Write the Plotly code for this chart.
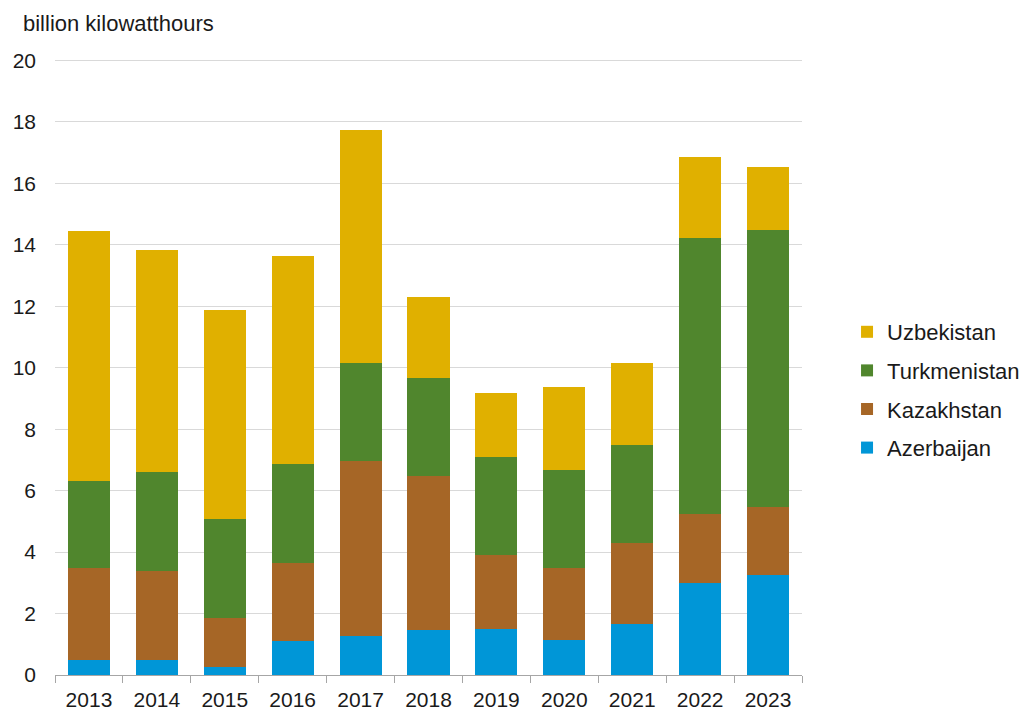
import plotly.graph_objects as go

years = ["2013", "2014", "2015", "2016", "2017", "2018", "2019", "2020", "2021", "2022", "2023"]
azerbaijan = [0.49, 0.48, 0.25, 1.10, 1.28, 1.45, 1.49, 1.14, 1.67, 2.98, 3.24]
kazakhstan = [2.99, 2.92, 1.62, 2.55, 5.67, 5.03, 2.41, 2.33, 2.63, 2.26, 2.23]
turkmenistan = [2.84, 3.20, 3.20, 3.21, 3.22, 3.20, 3.20, 3.20, 3.20, 9.00, 9.00]
uzbekistan = [8.12, 7.22, 6.81, 6.78, 7.58, 2.61, 2.07, 2.69, 2.65, 2.63, 2.05]

# stacked bottom to top; legend lists them top to bottom in reverse
series = [
    ("Azerbaijan", azerbaijan, "#0096D7"),
    ("Kazakhstan", kazakhstan, "#A66626"),
    ("Turkmenistan", turkmenistan, "#50862D"),
    ("Uzbekistan", uzbekistan, "#E0B000"),
]

FONT = "Liberation Sans, Arial, sans-serif"
TXT = "#1a1a1a"

fig = go.Figure()
for i, (name, vals, color) in enumerate(series):
    fig.add_trace(go.Bar(
        x=years, y=vals, name=name, legendgroup=name,
        legendrank=1000 - i,
        marker=dict(color=color, line=dict(width=0)),
    ))

fig.update_layout(
    width=1022, height=711,
    margin=dict(l=55, r=220, t=59, b=36, autoexpand=False),
    barmode="stack", bargap=0.38,
    plot_bgcolor="white", paper_bgcolor="white",
    font=dict(family=FONT, size=21, color=TXT),
    showlegend=True,
    legend=dict(
        xref="container", yref="container",
        x=0.8288, y=0.5626, xanchor="left", yanchor="top",
        traceorder="grouped", tracegroupgap=7,
        font=dict(family=FONT, size=22, color=TXT),
        itemwidth=30,
    ),
    xaxis=dict(
        showline=True, linecolor="#a6a6a6", linewidth=1,
        ticks="outside", tickson="boundaries", ticklen=7, tickcolor="#a6a6a6",
        ticklabelstandoff=6,
        tickfont=dict(family=FONT, size=21, color=TXT),
        showgrid=False, automargin=False,
    ),
    yaxis=dict(
        range=[0, 20.05], tickvals=list(range(0, 21, 2)), showline=False,
        showgrid=True, gridcolor="#d9d9d9", gridwidth=1.3,
        zeroline=False, ticks="", ticklabelstandoff=18,
        tickfont=dict(family=FONT, size=21, color=TXT),
        automargin=False,
    ),
    annotations=[dict(
        text="billion kilowatthours", xref="paper", yref="paper",
        x=-0.046, y=1.058, xanchor="left", yanchor="middle",
        showarrow=False, font=dict(family=FONT, size=22, color=TXT),
    )],
)

fig.write_html("out.html")
